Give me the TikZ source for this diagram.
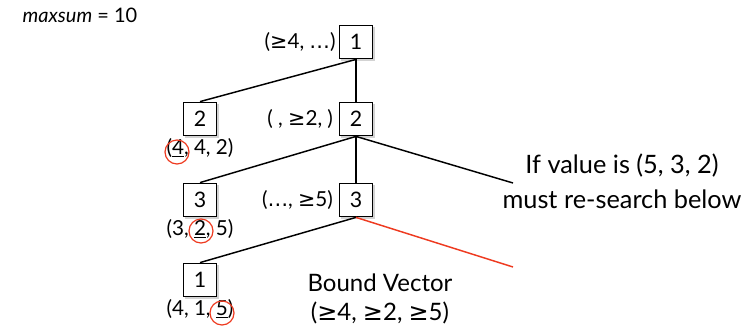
\documentclass[tikz,border=0pt]{standalone}
\usepackage{fontspec}
\setmainfont{Lato}
\newfontfamily\symfont{DejaVu Sans}
\newcommand\atleast{{\symfont ≥}}
\newcommand\etc{{\symfont …}}
\usetikzlibrary{positioning, shadows}
\definecolor{cutred}{RGB}{238,58,32}

\begin{document}
\begin{tikzpicture}[
    x=0.75pt, y=-0.75pt,
    box/.style={rectangle, draw=black, line width=1.1pt, fill=white, minimum size=25pt, inner sep=0pt, font=\fontsize{16}{18}\selectfont, drop shadow={opacity=0.35, shadow xshift=1.5pt, shadow yshift=-1.5pt}},
    edge/.style={line width=1.1pt, black},
    cut/.style={line width=1.1pt, cutred},
    vec/.style={font=\fontsize{15.5}{18}\selectfont, inner sep=1pt},
    big/.style={font=\fontsize{19}{26}\selectfont, align=center},
    ring/.style={circle, draw=cutred, line width=0.9pt, minimum size=18pt, inner sep=0pt},
  ]
    \useasboundingbox (0,0) rectangle (754,333);

    % search tree
    \node[box] (r1) at (356,42) {1};
    \node[box] (r2) at (356,119) {2};
    \node[box] (r3) at (356,200) {3};
    \node[box] (l2) at (200,119) {2};
    \node[box] (l3) at (200,200) {3};
    \node[box] (l1) at (200,280) {1};
    \coordinate (far) at (513,183);
    \coordinate (pruned) at (513,267);

    \draw[edge] (r1.south) -- (l2.north);
    \draw[edge] (r1) -- (r2);
    \draw[edge] (r2.south) -- (l3.north);
    \draw[edge] (r2) -- (r3);
    \draw[edge] (r2.south) -- (far);
    \draw[edge] (r3.south) -- (l1.north);
    \draw[cut] (r3.south) -- (pruned);

    % bounds beside the right column
    \node[vec, left=1pt of r1] (b1) {(\atleast4, \etc)};
    \node[vec, left=3pt of r2] (b2) {( , \atleast2, )};
    \node[vec, left=3pt of r3] (b3) {(\etc, \atleast5)};

    % values under the left column
    \node[vec, below=0pt of l2] (v2) {(\underline{4}, 4, 2)};
    \node[vec, below=0pt of l3] (v3) {(3, \underline{2}, 5)};
    \node[vec, below=0pt of l1] (v1) {(4, 1, \underline{5})};
    \node[ring] (c2) at (177,152) {};
    \node[ring] (c3) at (201,231) {};
    \node[ring] (c1) at (222,313) {};

    \node[anchor=west, font=\fontsize{15}{18}\selectfont] (ms) at (18,15) {\textit{maxsum} = 10};
    \node[big] (note) at (622,181) {If value is (5, 3, 2)\\must re-search below};
    \node[big, font=\fontsize{18}{22}\selectfont] (bv) at (380,299) {Bound Vector\\(\atleast4, \atleast2, \atleast5)};
  \end{tikzpicture}
\end{document}
